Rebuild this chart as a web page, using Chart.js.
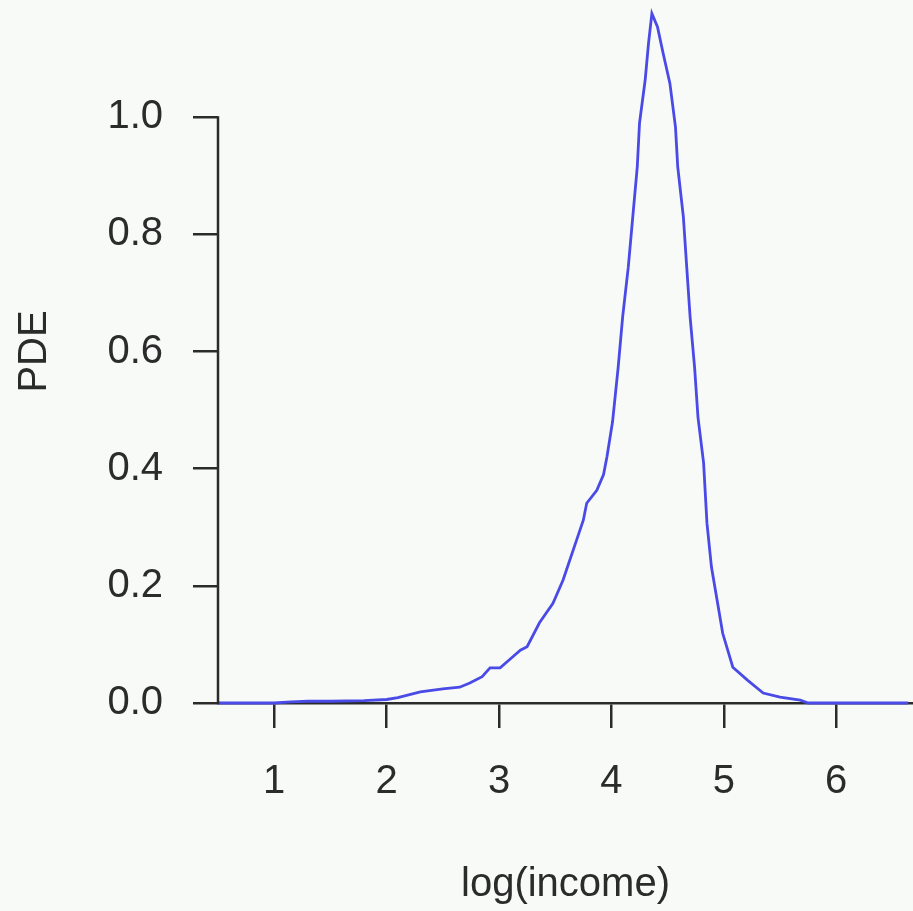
<!DOCTYPE html>
<html>
<head>
<meta charset="utf-8">
<script src="https://cdn.jsdelivr.net/npm/chart.js@4.4.1/dist/chart.umd.min.js"></script>
<style>
  html, body { margin: 0; padding: 0; background: #f8faf8; }
  #wrap { width: 913px; height: 911px; }
</style>
</head>
<body>
<div id="wrap"><canvas id="pdeChart"></canvas></div>
<script>
// density estimate of log(income)
const logIncome = [0.5, 1.0, 1.15, 1.3, 1.5, 1.8, 2.0, 2.1, 2.3, 2.5, 2.65, 2.74, 2.85, 2.92, 3.01, 3.1, 3.19, 3.25,
    3.36, 3.48, 3.57, 3.63, 3.69, 3.75, 3.78, 3.87, 3.93, 3.96, 4.01, 4.06, 4.10, 4.15, 4.19, 4.23, 4.25, 4.30,
    4.33, 4.36, 4.41, 4.46, 4.52, 4.57, 4.59, 4.64, 4.67, 4.70, 4.74, 4.77, 4.82, 4.85, 4.89, 4.94, 4.99, 5.08,
    5.21, 5.35, 5.50, 5.68, 5.75, 6.0, 6.64];
const density = [0, 0, 0.002, 0.003, 0.003, 0.004, 0.006, 0.009, 0.019, 0.024, 0.027, 0.034, 0.045, 0.060, 0.060, 0.075, 0.090, 0.096,
    0.137, 0.170, 0.210, 0.244, 0.278, 0.312, 0.341, 0.363, 0.390, 0.420, 0.480, 0.573, 0.659, 0.744, 0.830, 0.915, 0.990, 1.063,
    1.126, 1.177, 1.154, 1.109, 1.058, 0.983, 0.915, 0.830, 0.744, 0.659, 0.573, 0.488, 0.410, 0.307, 0.232, 0.176, 0.119, 0.061,
    0.039, 0.017, 0.010, 0.005, 0, 0, 0];
const xTicks = [1, 2, 3, 4, 5, 6];
const yTicks = [0, 0.2, 0.4, 0.6, 0.8, 1.0];

const ink = '#2b2b2b';
const fnt = { family: '"Liberation Sans", Arial, sans-serif', size: 40 };

// R-style y axis line: only from first to last tick
const yAxisLine = {
    id: 'yAxisLine',
    afterDraw(chart) {
        const ys = chart.scales.y;
        const x = chart.chartArea.left;
        const ctx = chart.ctx;
        ctx.save();
        ctx.strokeStyle = ink;
        ctx.lineWidth = 2.5;
        ctx.beginPath();
        ctx.moveTo(x, ys.getPixelForValue(yTicks[0]) + 1);
        ctx.lineTo(x, ys.getPixelForValue(yTicks[yTicks.length - 1]) - 1);
        ctx.stroke();
        ctx.restore();
    }
};

new Chart(document.getElementById('pdeChart'), {
    type: 'line',
    data: {
        datasets: [{
            data: logIncome.map((v, i) => ({ x: v, y: density[i] })),
            borderColor: 'rgb(74,74,230)',
            borderWidth: 2.8,
            pointRadius: 0,
            tension: 0,
            fill: false,
            clip: false
        }]
    },
    options: {
        responsive: true,
        maintainAspectRatio: false,
        animation: false,
        layout: { padding: 0 },
        plugins: { legend: { display: false }, tooltip: { enabled: false } },
        scales: {
            x: {
                type: 'linear',
                min: 0.5,
                max: 6.683,
                afterBuildTicks: s => { s.ticks = xTicks.map(v => ({ value: v })); },
                afterFit: s => { s.height = 208; s.paddingLeft = 0; s.paddingRight = 0; },
                border: { display: true, color: ink, width: 2.5 },
                grid: { drawOnChartArea: false, drawTicks: true, tickLength: 25, color: ink, lineWidth: 2.5 },
                ticks: { font: fnt, color: ink, padding: 30, maxRotation: 0 },
                title: { display: true, text: 'log(income)', font: fnt, color: ink, padding: { top: 0, bottom: 2 } }
            },
            y: {
                min: 0,
                max: 1.2,
                afterBuildTicks: s => { s.ticks = yTicks.map(v => ({ value: v })); },
                afterFit: s => { s.width = 218; s.paddingTop = 0; s.paddingBottom = 0; },
                border: { display: false },
                grid: { drawOnChartArea: false, drawTicks: true, tickLength: 25, color: ink, lineWidth: 2.5 },
                ticks: { font: fnt, color: ink, padding: 30, callback: v => v.toFixed(1) },
                title: { display: true, text: 'PDE', font: fnt, color: ink, padding: { top: 11, bottom: 0 } }
            }
        }
    },
    plugins: [yAxisLine]
});
</script>
</body>
</html>
